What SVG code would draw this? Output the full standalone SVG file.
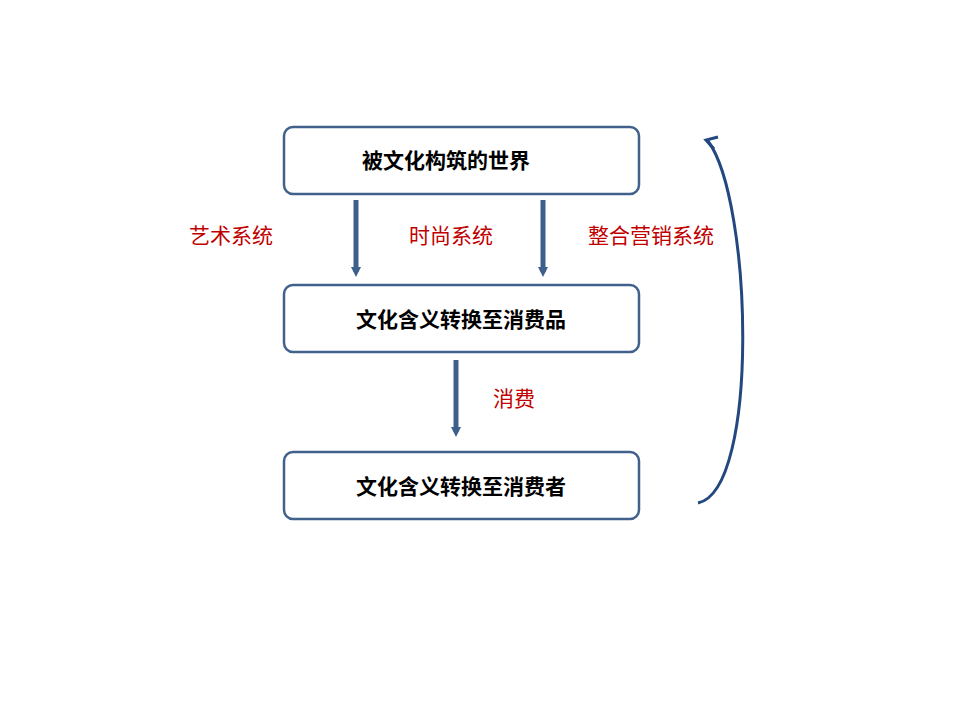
<svg xmlns="http://www.w3.org/2000/svg" width="960" height="720" viewBox="0 0 960 720">
<style>
.box{fill:#fff;stroke:#41618c;stroke-width:2.5}
.t{font-family:"Liberation Sans","Noto Sans CJK SC",sans-serif;font-size:21px;font-weight:bold;fill:#000;text-anchor:middle}
.r{font-family:"Liberation Sans","Noto Sans CJK SC",sans-serif;font-size:21px;fill:#c00000;text-anchor:middle}
.a{stroke:#3d5f8c;stroke-width:5;fill:none}
</style>
<defs>
<marker id="ah" viewBox="0 0 10 10" refX="5" refY="5" markerWidth="2.2" markerHeight="2" orient="auto"><path d="M0,0L10,5L0,10z" fill="#3d5f8c"/></marker>
</defs>
<rect width="960" height="720" fill="#fff"/>
<g id="n1"><rect class="box" x="284" y="127" width="355" height="67" rx="9"/><text class="t" x="446" y="168">被文化构筑的世界</text></g>
<g id="n2"><rect class="box" x="284" y="285" width="355" height="67" rx="9"/><text class="t" x="461" y="327">文化含义转换至消费品</text></g>
<g id="n3"><rect class="box" x="284" y="452" width="355" height="67" rx="9"/><text class="t" x="461" y="494">文化含义转换至消费者</text></g>
<g id="connectors">
<line class="a" x1="356" y1="200" x2="356" y2="272" marker-end="url(#ah)"/>
<line class="a" x1="543" y1="200" x2="543" y2="272" marker-end="url(#ah)"/>
<line class="a" x1="456" y1="360" x2="456" y2="432" marker-end="url(#ah)"/>
<path d="M698,503 C760,490 752,200 708,141" stroke="#23487f" stroke-width="3" fill="none"/>
<path d="M718,137 L706,140 L714,149" stroke="#23487f" stroke-width="3" fill="none"/>
</g>
<text class="r" x="231" y="243">艺术系统</text>
<text class="r" x="451" y="243">时尚系统</text>
<text class="r" x="651" y="243">整合营销系统</text>
<text class="r" x="514" y="406">消费</text>
</svg>
